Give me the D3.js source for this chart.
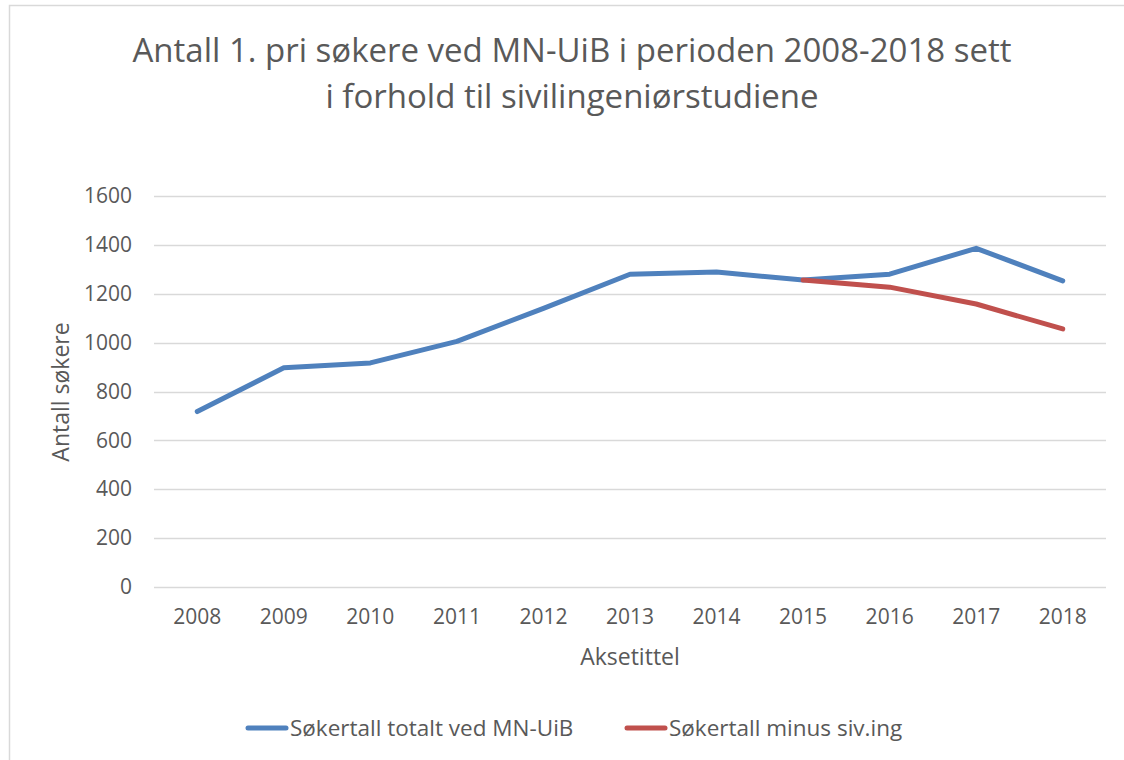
<!DOCTYPE html>
<html>
<head>
<meta charset="utf-8">
<script src="https://cdn.jsdelivr.net/npm/d3@7"></script>
<style>
  body { margin: 0; background: #fff; }
  svg text { font-family: "Open Sans", sans-serif; fill: #595959; }
</style>
</head>
<body>
<script>
// Data
let years = ['2008', '2009', '2010', '2011', '2012', '2013', '2014', '2015', '2016', '2017', '2018'];
let totalt = [718, 897, 917, 1005, 1140, 1280, 1289, 1256, 1280, 1386, 1253];
let minusSivIng = [null, null, null, null, null, null, null, 1256, 1227, 1158, 1056];
let yTicks = [0, 200, 400, 600, 800, 1000, 1200, 1400, 1600];

let seriesNames = ['Søkertall totalt ved MN-UiB', 'Søkertall minus siv.ing'];
let colors = ['#4f81bd', '#c0504d'];

let width = 1124, height = 760;
let margin = { left: 154, right: 18, top: 196, bottom: 173 };

let svg = d3.select('body').append('svg')
  .attr('width', width)
  .attr('height', height);

// chart frame
svg.append('rect')
  .attr('x', 9.5)
  .attr('y', 5.5)
  .attr('width', width)
  .attr('height', height)
  .attr('fill', 'none')
  .attr('stroke', '#d9d9d9')
  .attr('stroke-width', 1.5);

let x = d3.scaleBand()
  .domain(years)
  .range([margin.left, width - margin.right]);

let y = d3.scaleLinear()
  .domain([0, 1600])
  .range([height - margin.bottom, margin.top]);

// gridlines
svg.append('g')
  .selectAll('line')
  .data(yTicks)
  .enter()
  .append('line')
  .attr('x1', margin.left)
  .attr('x2', width - margin.right)
  .attr('y1', d => Math.round(y(d)) + 0.5)
  .attr('y2', d => Math.round(y(d)) + 0.5)
  .attr('stroke', '#d9d9d9')
  .attr('stroke-width', 1.5);

// y axis labels
let yAxis = svg.append('g')
  .attr('transform', `translate(${margin.left - 22},0)`)
  .call(d3.axisLeft(y).tickValues(yTicks).tickFormat(d3.format('d')).tickSize(0).tickPadding(0));
yAxis.select('.domain').remove();
yAxis.selectAll('text')
  .attr('font-size', '21px')
  .attr('font-family', '"Open Sans", sans-serif')
  .attr('fill', '#595959');

// x axis labels
let xAxis = svg.append('g')
  .attr('transform', `translate(0,${height - margin.bottom + 22})`)
  .call(d3.axisBottom(x).tickSize(0).tickPadding(0));
xAxis.select('.domain').remove();
xAxis.selectAll('text')
  .attr('font-size', '21px')
  .attr('font-family', '"Open Sans", sans-serif')
  .attr('fill', '#595959');

// lines
let line = d3.line()
  .defined(d => d != null)
  .x((d, i) => x(years[i]) + x.bandwidth() / 2)
  .y(d => y(d));

[totalt, minusSivIng].forEach((s, i) => {
  svg.append('path')
    .datum(s)
    .attr('d', line)
    .attr('fill', 'none')
    .attr('stroke', colors[i])
    .attr('stroke-width', 5)
    .attr('stroke-linecap', 'round')
    .attr('stroke-linejoin', 'round');
});

// title
let title = svg.append('text')
  .attr('text-anchor', 'middle')
  .attr('font-size', '33px');
title.append('tspan').attr('x', 572).attr('y', 62).text('Antall 1. pri søkere ved MN-UiB i perioden 2008-2018 sett');
title.append('tspan').attr('x', 572).attr('y', 108).text('i forhold til sivilingeniørstudiene');

// axis titles
svg.append('text')
  .attr('transform', 'translate(69,392) rotate(-90)')
  .attr('text-anchor', 'middle')
  .attr('font-size', '23px')
  .text('Antall søkere');

svg.append('text')
  .attr('x', 630)
  .attr('y', 665)
  .attr('text-anchor', 'middle')
  .attr('font-size', '23px')
  .text('Aksetittel');

// legend
let legendX = [248, 627];
let legend = svg.selectAll('.legend')
  .data(seriesNames)
  .enter()
  .append('g')
  .attr('class', 'legend')
  .attr('transform', (d, i) => `translate(${legendX[i]},728)`);

legend.append('line')
  .attr('x1', 0)
  .attr('x2', 38)
  .attr('stroke', (d, i) => colors[i])
  .attr('stroke-width', 5)
  .attr('stroke-linecap', 'round');

legend.append('text')
  .attr('x', 42)
  .attr('y', 8)
  .attr('font-size', '22.5px')
  .text(d => d);
</script>
</body>
</html>
